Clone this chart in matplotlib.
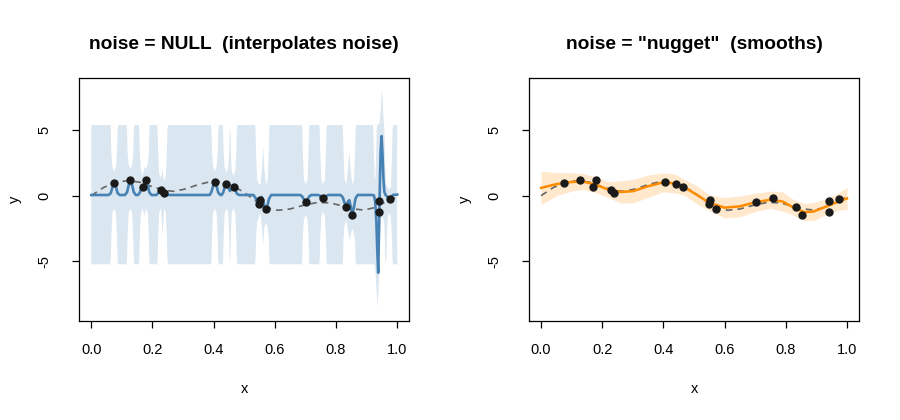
import numpy as np
import matplotlib.pyplot as plt

plt.rcParams['font.family'] = ['Liberation Sans', 'DejaVu Sans']
plt.rcParams['axes.unicode_minus'] = False

# observed (noisy) data, shared by both panels
obs_x = [0.075, 0.128, 0.170, 0.179, 0.227, 0.238, 0.404, 0.442, 0.465, 0.548,
         0.553, 0.571, 0.701, 0.758, 0.834, 0.853, 0.942, 0.942, 0.975]
obs_y = [1.00, 1.23, 0.67, 1.18, 0.41, 0.23, 1.05, 0.90, 0.67, -0.67,
         -0.31, -1.03, -0.46, -0.18, -0.87, -1.49, -0.44, -1.28, -0.26]

# true function (dashed)
true_x = [0.00, 0.04, 0.08, 0.12, 0.16, 0.20, 0.24, 0.27, 0.31, 0.35, 0.39, 0.42, 0.46,
          0.50, 0.54, 0.58, 0.61, 0.65, 0.70, 0.74, 0.78, 0.82, 0.86, 0.89, 0.92, 0.95, 1.00]
true_y = [0.00, 0.62, 1.02, 1.15, 1.02, 0.68, 0.40, 0.33, 0.52, 0.85, 1.07, 1.05, 0.78,
          0.25, -0.45, -0.95, -1.12, -1.02, -0.70, -0.52, -0.55, -0.78, -1.02, -1.10, -0.95, -0.62, -0.10]

# noise = NULL : posterior mean (spiky interpolant)
null_x = [0.000, 0.057, 0.064, 0.069, 0.075, 0.081, 0.086, 0.093,
          0.110, 0.117, 0.122, 0.128, 0.134, 0.139, 0.146,
          0.153, 0.159, 0.164, 0.168, 0.173, 0.179, 0.185, 0.190, 0.197,
          0.213, 0.219, 0.223, 0.227, 0.232, 0.238, 0.243, 0.250,
          0.387, 0.392, 0.398, 0.404, 0.410, 0.415, 0.422,
          0.426, 0.431, 0.436, 0.442, 0.448, 0.4535, 0.459, 0.465, 0.471, 0.476, 0.483,
          0.530, 0.537, 0.542, 0.548, 0.553, 0.557, 0.562, 0.566, 0.571, 0.576, 0.581, 0.588,
          0.683, 0.689, 0.695, 0.701, 0.707, 0.713, 0.719,
          0.741, 0.747, 0.752, 0.758, 0.764, 0.769, 0.776,
          0.815, 0.822, 0.828, 0.834, 0.839, 0.8435, 0.848, 0.853, 0.859, 0.864, 0.871,
          0.918, 0.924, 0.928, 0.932, 0.935, 0.938, 0.940, 0.942, 0.944, 0.946, 0.949,
          0.952, 0.955, 0.958, 0.962, 0.967, 0.971, 0.975, 0.980, 0.986, 1.000]
null_y = [0.05, 0.05, 0.20, 0.63, 1.02, 0.63, 0.20, 0.05,
          0.05, 0.26, 0.76, 1.23, 0.76, 0.26, 0.05,
          0.05, 0.25, 0.58, 0.69, 0.85, 1.20, 0.75, 0.24, 0.05,
          0.05, 0.20, 0.36, 0.43, 0.27, 0.28, 0.15, 0.05,
          0.05, 0.24, 0.70, 1.08, 0.70, 0.24, 0.05,
          0.05, 0.22, 0.62, 0.98, 0.62, 0.36, 0.52, 0.72, 0.45, 0.16, 0.05,
          0.05, -0.18, -0.45, -0.66, -0.22, -0.10, -0.40, -0.80, -1.08, -0.75, -0.25, 0.05,
          0.05, -0.05, -0.28, -0.48, -0.28, -0.05, 0.05,
          0.05, 0.00, -0.12, -0.20, -0.12, 0.00, 0.05,
          0.05, -0.12, -0.55, -0.85, -0.45, -0.35, -0.80, -1.48, -0.85, -0.20, 0.05,
          0.05, 0.02, -0.40, -2.00, -4.20, -5.90, -3.50, -0.90, 1.50, 3.40, 4.56,
          3.20, 1.30, 0.30, 0.05, -0.05, -0.18, -0.26, -0.12, 0.05, 0.08]

# noise = NULL : upper edge of the band (slotted at every observation)
up_x = [0.000,
        0.0625, 0.064, 0.0655, 0.069, 0.075, 0.081, 0.0845, 0.086, 0.0875,
        0.1155, 0.117, 0.1185, 0.122, 0.128, 0.134, 0.1375, 0.139, 0.1405,
        0.1555, 0.157, 0.1585, 0.162, 0.168, 0.1735, 0.179, 0.185, 0.1885, 0.190, 0.1915,
        0.2155, 0.217, 0.2185, 0.222, 0.228, 0.233, 0.238, 0.244, 0.2475, 0.249, 0.2505,
        0.3915, 0.393, 0.3945, 0.398, 0.404, 0.410, 0.4135, 0.415, 0.4165,
        0.4295, 0.431, 0.4325, 0.436, 0.442, 0.448, 0.451, 0.4525, 0.4535, 0.4545, 0.456,
        0.459, 0.465, 0.471, 0.4745, 0.476, 0.4775,
        0.5355, 0.537, 0.5385, 0.542, 0.548, 0.553, 0.558, 0.562, 0.566, 0.571, 0.577,
        0.5805, 0.582, 0.5835,
        0.6885, 0.690, 0.6915, 0.695, 0.701, 0.707, 0.7105, 0.712, 0.7135,
        0.7455, 0.747, 0.7485, 0.752, 0.758, 0.764, 0.7675, 0.769, 0.7705,
        0.8215, 0.823, 0.8245, 0.828, 0.834, 0.839, 0.8435, 0.848, 0.853, 0.859, 0.8625,
        0.864, 0.8655,
        0.9205, 0.922, 0.9235, 0.926, 0.929, 0.9315, 0.933, 0.9345, 0.942, 0.946, 0.948,
        0.950, 0.953, 0.955, 0.957, 0.9585, 0.960, 0.963, 0.968, 0.975, 0.980, 0.9835,
        0.985, 0.9865, 1.000]
up_y = [5.40,
        5.40, 4.90, 3.40, 2.20, 1.80, 2.20, 3.40, 4.90, 5.40,
        5.40, 4.90, 3.40, 2.40, 2.00, 2.40, 3.40, 4.90, 5.40,
        5.40, 4.90, 3.40, 2.00, 1.50, 2.20, 2.00, 2.40, 3.40, 4.90, 5.40,
        5.40, 4.90, 3.40, 1.70, 1.30, 2.00, 1.10, 1.50, 3.40, 4.90, 5.40,
        5.40, 4.90, 3.40, 2.25, 1.85, 2.25, 3.40, 4.90, 5.40,
        5.40, 4.90, 3.40, 2.20, 1.75, 2.20, 3.40, 4.90, 5.20, 4.90, 3.40,
        1.90, 1.50, 1.90, 3.40, 4.90, 5.40,
        5.40, 4.90, 3.40, 1.25, 0.85, 0.85, 2.00, 3.80, 2.00, 0.85, 1.25,
        3.40, 4.90, 5.40,
        5.40, 4.90, 3.40, 1.25, 0.85, 1.25, 3.40, 4.90, 5.40,
        5.40, 4.90, 3.40, 1.25, 0.85, 1.25, 3.40, 4.90, 5.40,
        5.40, 4.90, 3.40, 1.25, 0.85, 2.00, 3.40, 2.00, 0.85, 1.25, 3.40,
        4.90, 5.40,
        5.40, 4.90, 3.40, 1.40, 1.20, 3.40, 4.90, 5.40, 5.50, 6.50, 7.40,
        8.10, 7.00, 6.00, 5.40, 4.90, 3.40, 1.00, 0.60, 0.45, 0.70, 3.40,
        4.90, 5.40, 5.40]

# noise = NULL : lower edge of the band
lo_x = [0.000,
        0.0625, 0.064, 0.0655, 0.069, 0.075, 0.081, 0.0845, 0.086, 0.0875,
        0.1155, 0.117, 0.1185, 0.122, 0.128, 0.134, 0.1375, 0.139, 0.1405,
        0.1555, 0.157, 0.1585, 0.162, 0.168, 0.1735, 0.179, 0.185, 0.1885, 0.190, 0.1915,
        0.2155, 0.217, 0.2185, 0.222, 0.228, 0.233, 0.238, 0.244, 0.2475, 0.249, 0.2505,
        0.3915, 0.393, 0.3945, 0.398, 0.404, 0.410, 0.4135, 0.415, 0.4165,
        0.4295, 0.431, 0.4325, 0.436, 0.442, 0.448, 0.451, 0.4525, 0.4535, 0.4545, 0.456,
        0.459, 0.465, 0.471, 0.4745, 0.476, 0.4775,
        0.5355, 0.537, 0.5385, 0.542, 0.548, 0.553, 0.558, 0.562, 0.566, 0.571, 0.577,
        0.5805, 0.582, 0.5835,
        0.6885, 0.690, 0.6915, 0.695, 0.701, 0.707, 0.7105, 0.712, 0.7135,
        0.7455, 0.747, 0.7485, 0.752, 0.758, 0.764, 0.7675, 0.769, 0.7705,
        0.8215, 0.823, 0.8245, 0.828, 0.834, 0.839, 0.8435, 0.848, 0.853, 0.859, 0.8625,
        0.864, 0.8655,
        0.926, 0.929, 0.932, 0.936, 0.939, 0.941, 0.9425, 0.944, 0.947, 0.953, 0.958,
        0.960, 0.9615, 0.963, 0.9645, 0.966, 0.969, 0.975, 0.980, 0.9835, 0.985, 0.9865,
        1.000]
lo_y = [-5.25,
        -5.25, -4.80, -3.30, -1.35, -0.95, -1.35, -3.30, -4.80, -5.25,
        -5.25, -4.80, -3.30, -1.35, -0.95, -1.35, -3.30, -4.80, -5.25,
        -5.25, -4.80, -3.30, -1.35, -0.95, -1.60, -0.95, -1.35, -3.30, -4.80, -5.25,
        -5.25, -4.80, -3.30, -1.35, -0.95, -3.00, -0.95, -1.35, -3.30, -4.80, -5.25,
        -5.25, -4.80, -3.30, -1.35, -0.95, -1.35, -3.30, -4.80, -5.25,
        -5.25, -4.80, -3.30, -1.35, -0.95, -1.35, -3.30, -4.80, -5.10, -4.80, -3.30,
        -1.35, -0.95, -1.35, -3.30, -4.80, -5.25,
        -5.25, -4.80, -3.30, -2.05, -1.65, -1.30, -2.40, -3.80, -2.40, -2.05, -2.45,
        -3.30, -4.80, -5.25,
        -5.25, -4.80, -3.30, -1.85, -1.45, -1.85, -3.30, -4.80, -5.25,
        -5.25, -4.80, -3.30, -1.60, -1.20, -1.60, -3.30, -4.80, -5.25,
        -5.25, -4.80, -3.30, -2.25, -1.85, -2.60, -3.40, -3.00, -2.50, -2.90, -3.50,
        -4.80, -5.25,
        -5.25, -5.80, -7.00, -8.50, -7.20, -5.80, -4.80, -3.00, -1.80, -1.60, -2.20,
        -3.60, -4.90, -5.20, -4.90, -3.60, -1.70, -1.30, -1.70, -3.60, -4.90, -5.25,
        -5.25]

# noise = "nugget" : smooth posterior mean and band
nug_x = [0.00, 0.05, 0.10, 0.14, 0.18, 0.22, 0.26, 0.30, 0.35, 0.40, 0.44, 0.47, 0.51,
         0.55, 0.60, 0.65, 0.70, 0.75, 0.79, 0.82, 0.86, 0.89, 0.93, 0.97, 1.00]
nug_y = [0.59, 0.88, 1.05, 1.07, 0.82, 0.46, 0.28, 0.34, 0.72, 1.02, 0.92, 0.62, 0.05,
         -0.55, -0.92, -0.82, -0.51, -0.31, -0.45, -0.84, -1.26, -1.22, -0.86, -0.47, -0.21]
nug_up = [1.87, 1.76, 1.75, 1.67, 1.42, 1.06, 1.13, 1.24, 1.57, 1.74, 1.64, 1.22, 0.75,
          0.05, -0.15, -0.02, 0.19, 0.34, 0.30, -0.24, -0.61, -0.52, -0.26, 0.18, 0.64]
nug_lo = [-0.69, 0.00, 0.35, 0.47, 0.22, -0.14, -0.57, -0.56, -0.13, 0.30, 0.20, 0.02, -0.65,
          -1.15, -1.69, -1.62, -1.21, -0.96, -1.20, -1.44, -1.91, -1.92, -1.46, -1.12, -1.06]

x_ticks = [0.0, 0.2, 0.4, 0.6, 0.8, 1.0]
y_ticks = [-5, 0, 5]


def style_axes(ax, title):
    ax.set_xlim(-0.04, 1.04)
    ax.set_ylim(-9.59, 9.0)
    ax.set_xticks(x_ticks)
    ax.set_xticklabels([f'{t:.1f}' for t in x_ticks])
    ax.set_yticks(y_ticks)
    ax.set_yticklabels([str(t) for t in y_ticks], rotation=90, va='center')
    ax.tick_params(axis='both', direction='out', length=5, width=0.9, labelsize=10.5)
    ax.tick_params(axis='x', pad=11)
    ax.tick_params(axis='y', pad=15)
    for s in ax.spines.values():
        s.set_linewidth(0.9)
    ax.set_xlabel('x', fontsize=10.5, labelpad=18)
    ax.set_ylabel('y', fontsize=10.5, labelpad=11)
    ax.set_title(title, fontsize=13.8, fontweight='bold', pad=21)


fig = plt.figure(figsize=(9, 4.2), dpi=100)
ax1 = fig.add_axes([0.0878, 0.2357, 0.3671, 0.5786])
ax2 = fig.add_axes([0.5876, 0.2357, 0.3671, 0.5786])

ax1.fill(up_x + lo_x[::-1], up_y + lo_y[::-1], color='steelblue', alpha=0.2, lw=0)
ax1.plot(true_x, true_y, color='#666666', lw=1.2, dashes=(4, 3))
ax1.plot(null_x, null_y, color='steelblue', lw=1.9)
ax1.plot(obs_x, obs_y, 'o', color='#1a1a1a', ms=5)
style_axes(ax1, 'noise = NULL  (interpolates noise)')

ax2.fill_between(nug_x, nug_lo, nug_up, color='darkorange', alpha=0.2, lw=0)
ax2.plot(true_x, true_y, color='#666666', lw=1.2, dashes=(4, 3))
ax2.plot(nug_x, nug_y, color='darkorange', lw=1.8)
ax2.plot(obs_x, obs_y, 'o', color='#1a1a1a', ms=5)
style_axes(ax2, 'noise = "nugget"  (smooths)')

fig.savefig('out.png', dpi=100)
